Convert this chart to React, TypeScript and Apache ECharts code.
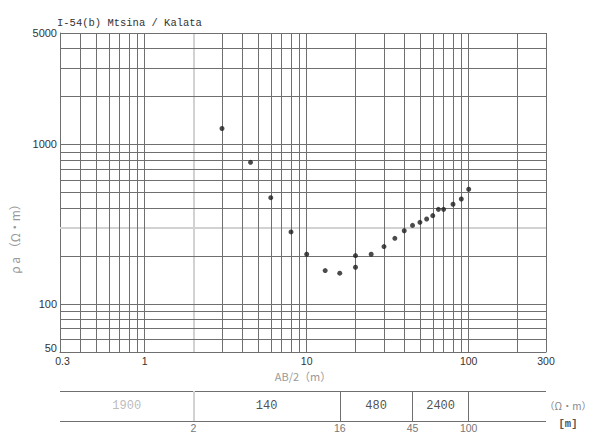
import React, { useEffect, useRef } from "react";
import * as echarts from "echarts";

// Sounding curve: electrode half-spacing AB/2 (m) vs apparent resistivity (Ω·m)
const spacing = [3, 4.5, 6, 8, 10, 13, 16, 20, 20, 25, 30, 35, 40, 45, 50, 55, 60, 65, 70, 80, 90, 100];
const rhoA = [1260, 773, 464, 283, 205, 162, 156, 201, 170, 205, 229, 258, 288, 311, 325, 341, 358, 392, 392, 422, 455, 524];

// Log-log grid lines
const xGridLines = [0.4, 0.5, 0.6, 0.7, 0.8, 0.9, 1, 3, 4, 5, 6, 7, 8, 9, 10, 20, 30, 40, 50, 60, 70, 80, 90, 100, 200, 300];
const xGridLight = [2];
const yGridLines = [60, 70, 80, 90, 100, 200, 400, 500, 600, 700, 800, 900, 1000, 2000, 3000, 4000, 5000];
const yGridLight = [300];

// Axis tick labels
const xTickLabels = [0.3, 1, 10, 100, 300];
const yTickLabels = [50, 100, 1000, 5000];

// Interpreted layer model
const layerEdges = [0.3, 2, 16, 45, 100];
const layerBounds = [2, 16, 45, 100];
const layerRho = ["1900", "140", "480", "2400"];

const FONT = "Liberation Sans, Arial, sans-serif";
const MONO = "Liberation Mono, DejaVu Sans Mono, monospace";
const JP = "Noto Sans CJK JP, sans-serif";
const LINE = "#6f6f6f";
const LIGHT = "#d2d2d2";
const TEXT = "#333";

const fmt = (v: number) => String(+Number(v).toPrecision(3));

export default function App() {
  const ref = useRef<HTMLDivElement>(null);

  useEffect(() => {
    if (!ref.current) return;
    const chart = echarts.init(ref.current, undefined, { renderer: "svg" });

    const layerCenters = layerEdges.slice(0, -1).map((a, i) => Math.sqrt(a * layerEdges[i + 1]));

    const vLine = (v: number, color: string, width = 1) => ({
      xAxis: v,
      lineStyle: { color, width, type: "solid" },
    });
    const hLine = (v: number, color: string, width = 1) => ({
      yAxis: v,
      lineStyle: { color, width, type: "solid" },
    });

    const xMin = xTickLabels[0];
    const yMin = yTickLabels[0];

    const option: any = {
      animation: false,
      backgroundColor: "#ffffff",
      title: {
        text: "I-54(b) Mtsina / Kalata",
        left: 52,
        top: 12,
        textStyle: { fontSize: 10.5, fontWeight: "normal", color: TEXT, fontFamily: MONO },
      },
      grid: [
        { left: 60, right: 45, top: 33, height: 319 },
        { left: 60, right: 45, top: 391, height: 30 },
      ],
      xAxis: [
        {
          type: "log",
          logBase: 10,
          min: 0.3,
          max: 300,
          gridIndex: 0,
          name: "AB/2（m）",
          nameLocation: "middle",
          nameGap: 14,
          nameTextStyle: { fontSize: 11, color: "#999", fontFamily: JP },
          axisLine: { show: true, lineStyle: { color: LINE, width: 1 } },
          axisTick: { show: false },
          splitLine: { show: false },
          axisLabel: {
            customValues: xTickLabels,
            formatter: (v: number) => (Math.abs(v - xMin) < 1e-9 ? "{first|" + fmt(v) + "}" : fmt(v)),
            rich: { first: { padding: [0, 0, 0, 5], fontSize: 10.5, color: TEXT, fontFamily: FONT } },
            fontSize: 10.5,
            color: TEXT,
            margin: 3,
            fontFamily: FONT,
          },
        },
        {
          type: "log",
          logBase: 10,
          min: 0.3,
          max: 300,
          gridIndex: 1,
          axisLine: { show: false },
          axisTick: { show: false },
          splitLine: { show: false },
          axisLabel: {
            customValues: layerBounds,
            formatter: (v: number) => fmt(v),
            fontSize: 10.5,
            color: "#777",
            margin: 1,
            fontFamily: FONT,
          },
        },
      ],
      yAxis: [
        {
          type: "log",
          logBase: 10,
          min: 50,
          max: 5000,
          gridIndex: 0,
          axisLine: { show: true, lineStyle: { color: LINE, width: 1 } },
          axisTick: { show: false },
          splitLine: { show: false },
          axisLabel: {
            customValues: yTickLabels,
            formatter: (v: number) => (Math.abs(v - yMin) < 1e-9 ? "{low|" + fmt(v) + "}" : fmt(v)),
            rich: { low: { padding: [0, 0, 8, 0], fontSize: 11, color: TEXT, fontFamily: FONT } },
            fontSize: 11,
            color: TEXT,
            margin: 3,
            fontFamily: FONT,
          },
        },
        {
          type: "value",
          min: 0,
          max: 1,
          gridIndex: 1,
          show: false,
        },
      ],
      graphic: [
        {
          type: "text",
          x: 14,
          y: 236,
          rotation: Math.PI / 2,
          style: {
            text: "ρ a （Ω・m）",
            fontSize: 12,
            fill: "#999",
            fontFamily: JP,
            align: "center",
            verticalAlign: "middle",
          },
        },
        {
          type: "text",
          x: 568,
          y: 405,
          style: {
            text: "（Ω・m）",
            fontSize: 10,
            fill: "#888",
            fontFamily: JP,
            align: "center",
            verticalAlign: "middle",
          },
        },
        {
          type: "text",
          x: 568,
          y: 424,
          style: {
            text: "[m]",
            fontSize: 10.5,
            fontWeight: "bold",
            fill: "#555",
            fontFamily: MONO,
            align: "center",
            verticalAlign: "middle",
          },
        },
      ],
      series: [
        {
          type: "scatter",
          xAxisIndex: 0,
          yAxisIndex: 0,
          symbol: "circle",
          symbolSize: 5,
          itemStyle: { color: "#1e1e1e" },
          data: spacing.map((x, i) => [x, rhoA[i]]),
          z: 5,
          markLine: {
            silent: true,
            symbol: ["none", "none"],
            label: { show: false },
            emphasis: { disabled: true },
            data: [
              ...xGridLight.map((v) => vLine(v, LIGHT, 2)),
              ...yGridLight.map((v) => hLine(v, LIGHT, 2)),
              ...xGridLines.map((v) => vLine(v, LINE)),
              ...yGridLines.map((v) => hLine(v, LINE)),
            ],
          },
        },
        {
          type: "scatter",
          xAxisIndex: 1,
          yAxisIndex: 1,
          symbolSize: 0,
          silent: true,
          data: layerCenters.map((c, i) => ({
            value: [c, 0.5],
            label: { color: i === 0 ? "#aaa" : "#222" },
          })),
          label: {
            show: true,
            position: "inside",
            formatter: (p: any) => layerRho[p.dataIndex],
            fontSize: 12,
            fontFamily: MONO,
          },
          markLine: {
            silent: true,
            symbol: ["none", "none"],
            label: { show: false },
            emphasis: { disabled: true },
            data: [
              hLine(0, LINE),
              hLine(1, LINE),
              ...layerBounds.map((v, i) => vLine(v, i === 0 ? LIGHT : LINE, i === 0 ? 2 : 1)),
            ],
          },
        },
      ],
    };

    chart.setOption(option);
    return () => chart.dispose();
  }, []);

  return (
    <div
      ref={ref}
      style={{ position: "fixed", left: 0, top: 0, width: 591, height: 439, background: "#fff" }}
    />
  );
}
